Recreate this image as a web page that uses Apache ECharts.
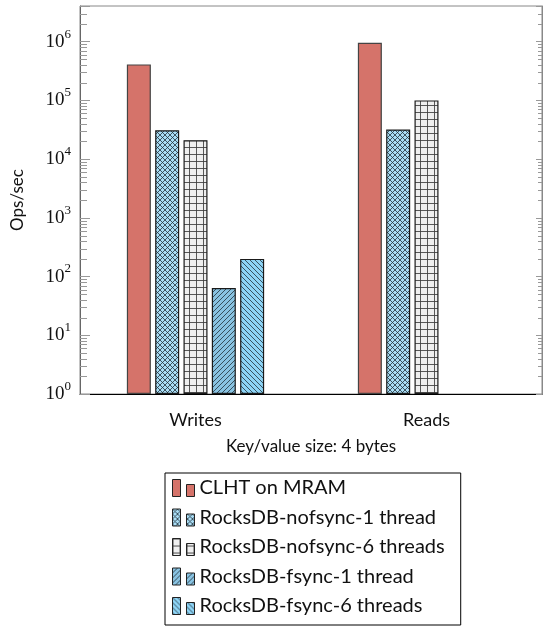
<!DOCTYPE html>
<html>
<head>
<meta charset="utf-8">
<script src="https://cdn.jsdelivr.net/npm/echarts@6/dist/echarts.min.js"></script>
<style>
  html, body { margin: 0; padding: 0; background: #fff; }
  #main { width: 543px; height: 628px; }
</style>
</head>
<body>
<div id="main"></div>
<script>
// data
const categories = ["Writes", "Reads"];
const seriesNames = [
  "CLHT on MRAM",
  "RocksDB-nofsync-1 thread",
  "RocksDB-nofsync-6 threads",
  "RocksDB-fsync-1 thread",
  "RocksDB-fsync-6 threads"
];
const clhtMram = [410000, 960000];
const nofsync1 = [31000, 32000];
const nofsync6 = [21000, 100000];
const fsync1 = [64, null];
const fsync6 = [200, null];

const yMin = 1;
const yMax = 4.05e6;

// log minor ticks 2..9 x 10^k
const minorTicks = [];
for (let k = 0; k <= 6; k++) {
  for (let m = 2; m <= 9; m++) {
    const v = m * Math.pow(10, k);
    if (v < yMax) minorTicks.push(v);
  }
}

// hatch patterns
function makeTile(size, bg, draw) {
  const c = document.createElement("canvas");
  c.width = size;
  c.height = size;
  const ctx = c.getContext("2d");
  ctx.fillStyle = bg;
  ctx.fillRect(0, 0, size, size);
  ctx.strokeStyle = "rgba(35,50,60,0.8)";
  ctx.lineWidth = 1;
  draw(ctx, size);
  return { image: c, repeat: "repeat" };
}
let diagUp = (ctx, s) => {
  for (const o of [-s, 0, s]) {
    ctx.beginPath();
    ctx.moveTo(o, s);
    ctx.lineTo(o + s, 0);
    ctx.stroke();
  }
};
let diagDown = (ctx, s) => {
  for (const o of [-s, 0, s]) {
    ctx.beginPath();
    ctx.moveTo(o, 0);
    ctx.lineTo(o + s, s);
    ctx.stroke();
  }
};
let gridLines = (ctx, s) => {
  ctx.strokeStyle = "rgba(60,60,60,0.85)";
  ctx.beginPath();
  ctx.moveTo(0.5, 0);
  ctx.lineTo(0.5, s);
  ctx.moveTo(0, 0.5);
  ctx.lineTo(s, 0.5);
  ctx.stroke();
};

const fills = [
  "#d5736a",
  makeTile(5, "#a9ddf5", (ctx, s) => { diagUp(ctx, s); diagDown(ctx, s); }),
  makeTile(7, "#efefef", gridLines),
  makeTile(5, "#89c3e2", diagUp),
  makeTile(5, "#8dd4f6", diagDown)
];
const values = [clhtMram, nofsync1, nofsync6, fsync1, fsync6];

const sans = "Lato";

let myChart = echarts.init(document.getElementById("main"));

let barSeries = seriesNames.map((name, i) => ({
  name: name,
  type: "bar",
  barWidth: 24,
  barGap: "18%",
  data: values[i],
  itemStyle: {
    color: fills[i],
    borderColor: i === 0 ? "#444" : "#1a1a1a",
    borderWidth: 1.2
  },
  emphasis: { disabled: true }
}));

let option = {
  animation: false,
  grid: {
    left: 80,
    right: 1,
    top: 6,
    bottom: 234,
    show: true,
    borderColor: "#888",
    borderWidth: 1,
    outerBoundsMode: "none"
  },
  legend: {
    data: seriesNames,
    orient: "vertical",
    left: 165,
    top: 473,
    padding: [5, 16, 9, 7],
    itemGap: 9.5,
    itemWidth: 22,
    itemHeight: 17,
    icon: "path://M0,0h8v17h-8zM14,5h8v12h-8z",
    itemStyle: { borderColor: "#222", borderWidth: 1 },
    borderColor: "#000",
    borderWidth: 1,
    textStyle: { fontFamily: sans, fontSize: 20, color: "#111" }
  },
  xAxis: {
    type: "category",
    data: categories,
    name: "Key/value size: 4 bytes",
    nameLocation: "middle",
    nameGap: 44,
    nameTextStyle: { fontFamily: sans, fontSize: 17, color: "#111" },
    axisLine: { lineStyle: { color: "#000", width: 1 } },
    axisTick: { show: false },
    axisLabel: { margin: 17, fontFamily: sans, fontSize: 18, color: "#111" }
  },
  yAxis: [
    {
      type: "log",
      logBase: 10,
      min: yMin,
      max: yMax,
      name: "Ops/sec",
      nameLocation: "middle",
      nameGap: 54,
      nameTextStyle: { fontFamily: sans, fontSize: 17, color: "#111" },
      axisLine: { show: true, lineStyle: { color: "#666" } },
      axisTick: { show: true, inside: true, length: 10, lineStyle: { color: "#999" } },
      splitLine: { show: false },
      axisLabel: {
        margin: 9,
        formatter: (v) => {
          const e = Math.round(Math.log10(v));
          if (Math.abs(Math.pow(10, e) - v) / v > 1e-6) return "";
          return "{b|10}{s|" + e + "}";
        },
        rich: {
          b: { fontFamily: "Liberation Serif", fontSize: 19, lineHeight: 28, color: "#111" },
          s: { fontFamily: "Liberation Serif", fontSize: 13, lineHeight: 13, verticalAlign: "top", color: "#111" }
        }
      }
    },
    {
      type: "log",
      logBase: 10,
      min: yMin,
      max: yMax,
      position: "right",
      axisLine: { show: true, lineStyle: { color: "#888" } },
      axisTick: { show: true, inside: true, length: 6, lineStyle: { color: "#999" } },
      axisLabel: { show: false },
      splitLine: { show: false }
    }
  ],
  series: barSeries.concat([
    {
      name: "minorTicks",
      type: "custom",
      silent: true,
      z: 1,
      encode: { x: 0, y: 1 },
      data: minorTicks.map((v) => [0, v]),
      renderItem: function (params, api) {
        const y = Math.round(api.coord([0, api.value(1)])[1]) + 0.5;
        const cs = params.coordSys;
        return {
          type: "group",
          children: [
            { type: "line", shape: { x1: cs.x, y1: y, x2: cs.x + 7, y2: y }, style: { stroke: "#999", lineWidth: 1 } },
            { type: "line", shape: { x1: cs.x + cs.width - 4, y1: y, x2: cs.x + cs.width, y2: y }, style: { stroke: "#999", lineWidth: 1 } }
          ]
        };
      }
    }
  ])
};
myChart.setOption(option);
</script>
</body>
</html>
